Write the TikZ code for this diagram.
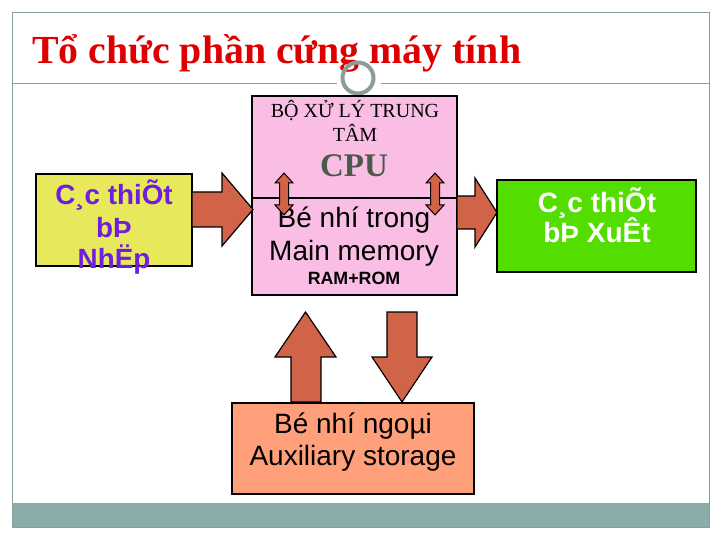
\documentclass[tikz,border=0pt]{standalone}
\usepackage{fontspec}
\setmainfont{Liberation Sans}
\newfontfamily\timesf{Liberation Serif}
\definecolor{framec}{RGB}{138,156,156}
\definecolor{barc}{RGB}{138,172,170}
\definecolor{titlec}{RGB}{222,0,0}
\definecolor{pinkc}{RGB}{250,190,228}
\definecolor{yellowc}{RGB}{232,232,92}
\definecolor{greenc}{RGB}{84,221,0}
\definecolor{orangec}{RGB}{255,160,122}
\definecolor{arrowc}{RGB}{209,100,72}
\definecolor{cpuc}{RGB}{74,90,74}
\definecolor{purplec}{RGB}{110,30,220}
\begin{document}
\begin{tikzpicture}[x=1pt,y=-1pt,
  boxnode/.style={draw=black,line width=2pt,inner sep=0pt},
  blockarrow/.style={fill=arrowc,draw=black,line width=1.2pt,line join=miter},
  txt/.style={inner sep=0pt,anchor=base,align=center},
  sanstxt/.style={txt,font=\fontsize{28}{31}\selectfont},
  purpletxt/.style={txt,font=\fontsize{27.8}{31}\selectfont\bfseries,text=purplec},
  whitetxt/.style={txt,font=\fontsize{28}{31}\selectfont\bfseries,text=white}]
\useasboundingbox (0,0) rectangle (720,540);
% frame and bar
\fill[barc] (12,503) rectangle (709,527);
\draw[framec,line width=0.8pt] (12,12) rectangle (709,527);
\coordinate (hl) at (12,84);
\coordinate (hr) at (709,84);
\coordinate (ga) at (337,84);
\coordinate (gb) at (381,84);
\draw[framec,line width=1pt] (hl) -- (ga);
\draw[framec,line width=1pt] (gb) -- (hr);
\node[txt,anchor=base west,font=\timesf\fontsize{39.8}{44}\selectfont\bfseries,text=titlec] (title) at (32,64) {Tổ chức phần cứng máy tính};
\node[draw=framec,line width=4pt,circle,minimum size=31pt,inner sep=0pt] (ring) at (358,78) {};
% boxes
\node[boxnode,fill=pinkc,minimum width=205pt,minimum height=199pt] (cpu) at (354.5,195.5) {};
\node[boxnode,fill=yellowc,minimum width=156pt,minimum height=92pt] (inp) at (114,220) {};
\node[boxnode,fill=greenc,minimum width=199pt,minimum height=92pt] (outp) at (596.5,226) {};
\node[boxnode,fill=orangec,minimum width=242pt,minimum height=91pt] (aux) at (353,448.5) {};
\coordinate (dl) at (252,198);
\coordinate (dr) at (457,198);
\draw[black,line width=1.5pt] (dl) -- (dr);
% texts in CPU box
\node[txt,font=\timesf\fontsize{20}{22}\selectfont] (t1) at (355,118) {BỘ XỬ LÝ TRUNG};
\node[txt,font=\timesf\fontsize{20}{22}\selectfont] (t2) at (355,142) {TÂM};
\node[txt,font=\timesf\fontsize{33}{36}\selectfont\bfseries,text=cpuc] (t3) at (354,177) {CPU};
\node[sanstxt] (t4) at (354,228) {Bé nhí trong};
\node[sanstxt] (t5) at (354,260) {Main memory};
\node[txt,font=\fontsize{17.8}{20}\selectfont\bfseries] (t6) at (354,284) {RAM+ROM};
% input / output / aux texts
\node[purpletxt] (i1) at (114,205) {C¸c thiÕt};
\node[purpletxt] (i2) at (114,237) {bÞ};
\node[purpletxt] (i3) at (114,268) {NhËp};
\node[whitetxt] (o1) at (597,212) {C¸c thiÕt};
\node[whitetxt] (o2) at (597,243) {bÞ XuÊt};
\node[sanstxt] (a1) at (353,433) {Bé nhí ngoµi};
\node[sanstxt] (a2) at (353,465) {Auxiliary storage};
% block arrows
\draw[blockarrow] (192,192) -- (222,192) -- (222,173) -- (253,209.5) -- (222,246) -- (222,227) -- (192,227) -- cycle;
\draw[blockarrow] (457,196) -- (475,196) -- (475,178) -- (497,212.5) -- (475,247) -- (475,229) -- (457,229) -- cycle;
\draw[blockarrow] (291,402) -- (291,357) -- (275,357) -- (305.5,312) -- (336,357) -- (321,357) -- (321,402) -- cycle;
\draw[blockarrow] (387,312) -- (417,312) -- (417,357) -- (432,357) -- (402,402) -- (372,357) -- (387,357) -- cycle;
% double arrows inside CPU box
\foreach \cx in {284,435}{
  \draw[blockarrow,line width=1pt] (\cx,173) -- (\cx+9,183) -- (\cx+4.5,183) -- (\cx+4.5,205) -- (\cx+9,205) -- (\cx,215) -- (\cx-9,205) -- (\cx-4.5,205) -- (\cx-4.5,183) -- (\cx-9,183) -- cycle;
}
\end{tikzpicture}
\end{document}
